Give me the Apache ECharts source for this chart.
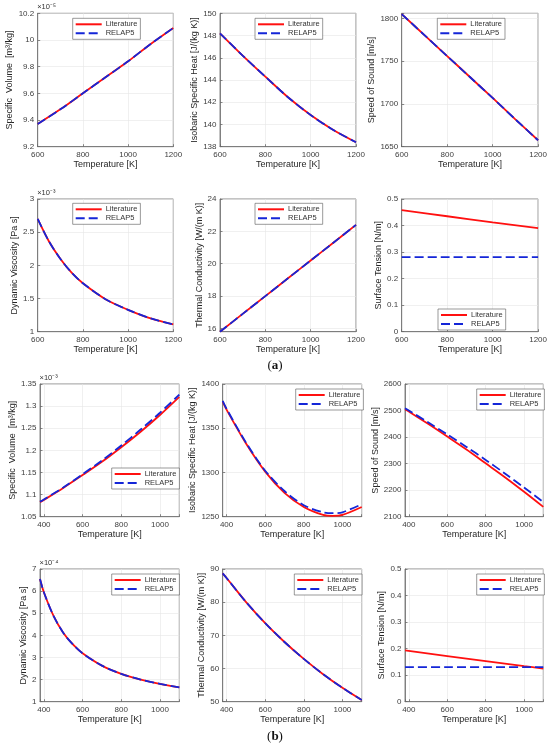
<!DOCTYPE html>
<html>
<head>
<meta charset="utf-8">
<script src="https://cdn.jsdelivr.net/npm/echarts@6/dist/echarts.min.js"></script>
<style>
html,body{margin:0;padding:0;background:#fff;}
#chart{width:550px;height:746px;}
</style>
</head>
<body>
<div id="chart"></div>
<script>
// ---------------- DATA ----------------
// (a) lead, T = 600..1200 K
const T_A = [600, 700, 800, 900, 1000, 1100, 1200];
const T_A_VISC = [600, 650, 700, 750, 800, 900, 1000, 1100, 1200];
const T_A_ST = [600, 800, 1000, 1200];

const A_SV_LIT = [9.37, 9.48, 9.60, 9.72, 9.84, 9.97, 10.09];      // x1e-5 m3/kg
const A_SV_REL = [9.37, 9.48, 9.60, 9.72, 9.84, 9.97, 10.09];
const A_CP_LIT = [148.2, 146.2, 144.3, 142.45, 140.85, 139.5, 138.4];
const A_CP_REL = [148.2, 146.2, 144.3, 142.45, 140.85, 139.5, 138.4];
const A_SS_LIT = [1805, 1780.5, 1756, 1731.5, 1707, 1682, 1657.5];
const A_SS_REL = [1805, 1780.5, 1756, 1731.5, 1707, 1682, 1657.5];
const A_MU_LIT = [2.70, 2.36, 2.10, 1.89, 1.73, 1.49, 1.33, 1.20, 1.11]; // x1e-3 Pa s
const A_MU_REL = [2.70, 2.36, 2.10, 1.89, 1.73, 1.49, 1.33, 1.20, 1.11];
const A_K_LIT = [15.8, 16.9, 18.0, 19.1, 20.2, 21.3, 22.4];
const A_K_REL = [15.8, 16.9, 18.0, 19.1, 20.2, 21.3, 22.4];
const A_ST_LIT = [0.458, 0.435, 0.412, 0.390];
const A_ST_REL = [0.281, 0.281, 0.281, 0.281];

// (b) sodium, T = 380..1100 K
const T_B = [380, 400, 500, 600, 700, 800, 900, 1000, 1100];
const T_B_CP = [380, 400, 500, 600, 700, 800, 900, 950, 1000, 1100];
const T_B_VISC = [380, 400, 450, 500, 550, 600, 700, 800, 900, 1000, 1100];
const T_B_ST = [380, 600, 800, 1000, 1100];

const B_SV_LIT = [1.083, 1.088, 1.115, 1.144, 1.174, 1.207, 1.242, 1.280, 1.321]; // x1e-3 m3/kg
const B_SV_REL = [1.084, 1.089, 1.116, 1.146, 1.177, 1.211, 1.247, 1.285, 1.326];
const B_CP_LIT = [1380, 1371, 1333, 1301, 1277, 1261, 1252, 1251, 1252, 1261];
const B_CP_REL = [1381, 1372, 1334, 1302, 1279, 1263, 1255, 1254, 1255, 1264];
const B_SS_LIT = [2505, 2496, 2450, 2402, 2353, 2301, 2249, 2194, 2137];
const B_SS_REL = [2509, 2500, 2456, 2410, 2363, 2314, 2263, 2210, 2155];
const B_MU_LIT = [6.55, 5.95, 4.88, 4.12, 3.59, 3.19, 2.63, 2.26, 2.00, 1.81, 1.65]; // x1e-4 Pa s
const B_MU_REL = [6.55, 5.95, 4.88, 4.12, 3.59, 3.19, 2.63, 2.26, 2.00, 1.81, 1.65];
const B_K_LIT = [88.7, 87.3, 80.1, 73.7, 68.0, 62.9, 58.3, 54.2, 50.5];
const B_K_REL = [88.7, 87.3, 80.1, 73.7, 68.0, 62.9, 58.3, 54.2, 50.5];
const B_ST_LIT = [0.193, 0.172, 0.153, 0.134, 0.125];
const B_ST_REL = [0.13, 0.13, 0.13, 0.13, 0.13];

const SERIES_NAMES = ['Literature', 'RELAP5'];
const X_TITLE = 'Temperature [K]';

// ---------------- LAYOUT ----------------
const FONT = "'Liberation Sans', Arial, Helvetica, sans-serif";
const RED = '#ff1010';
const BLUE = '#1426d8';

const panels = [
  // row a1
  {g:[37.7,13.3,135.6,133.4], x:[600,1200,200,true], y:[9.2,10.2,0.2,true], T:T_A, lit:A_SV_LIT, rel:A_SV_REL,
   yt:'Specific  Volume  [m\u00b3/kg]', exp:'\u00d710\u207b\u2075', yd:28.2, lg:[72.7,18.3]},
  {g:[220,13.3,136,133.4], x:[600,1200,200,true], y:[138,150,2,true], T:T_A, lit:A_CP_LIT, rel:A_CP_REL,
   yt:'Isobaric Specific Heat [J/(kg K)]', yd:23.3, lg:[255,18.3]},
  {g:[401.7,13.3,136.6,133.4], x:[600,1200,200,true], y:[1650,1806,50,true], T:T_A, lit:A_SS_LIT, rel:A_SS_REL,
   yt:'Speed of Sound [m/s]', yd:29, lg:[437.3,18.3]},
  // row a2
  {g:[37.7,199,135.6,132.7], x:[600,1200,200,true], y:[1,3,0.5,true], T:T_A_VISC, lit:A_MU_LIT, rel:A_MU_REL,
   yt:'Dynamic Viscosity [Pa s]', exp:'\u00d710\u207b\u00b3', yd:22.7, lg:[72.7,203.3]},
  {g:[220,199,136,132.7], x:[600,1200,200,true], y:[15.8,24,2,false], T:T_A, lit:A_K_LIT, rel:A_K_REL,
   yt:'Thermal Conductivity [W/(m K)]', yd:20.7, lg:[255,203.3]},
  {g:[401.7,199,136.6,132.7], x:[600,1200,200,true], y:[0,0.5,0.1,true], T:T_A_ST, lit:A_ST_LIT, rel:A_ST_REL,
   yt:'Surface Tension [N/m]', yd:22.7, lg:[438,309]},
  // row b1
  {g:[40,384,139.3,132.7], x:[380,1100,200,false], y:[1.05,1.35,0.05,true], T:T_B, lit:B_SV_LIT, rel:B_SV_REL,
   yt:'Specific  Volume  [m\u00b3/kg]', exp:'\u00d710\u207b\u00b3', yd:26.7, lg:[111.7,468]},
  {g:[222.7,384,139,132.7], x:[380,1100,200,false], y:[1250,1400,50,true], T:T_B_CP, lit:B_CP_LIT, rel:B_CP_REL,
   yt:'Isobaric Specific Heat [J/(kg K)]', yd:27.7, lg:[295.7,389]},
  {g:[405,384,138.3,132.7], x:[380,1100,200,false], y:[2100,2600,100,true], T:T_B, lit:B_SS_LIT, rel:B_SS_REL,
   yt:'Speed of Sound [m/s]', yd:29, lg:[476.7,389]},
  // row b2
  {g:[40,569,139.3,132.7], x:[380,1100,200,false], y:[1,7,1,true], T:T_B_VISC, lit:B_MU_LIT, rel:B_MU_REL,
   yt:'Dynamic Viscosity [Pa s]', exp:'\u00d710\u207b\u2074', yd:15.5, lg:[111.7,574]},
  {g:[222.7,569,139,132.7], x:[380,1100,200,false], y:[50,90,10,true], T:T_B, lit:B_K_LIT, rel:B_K_REL,
   yt:'Thermal Conductivity [W/(m K)]', yd:20.4, lg:[294.3,574]},
  {g:[405,569,138.3,132.7], x:[380,1100,200,false], y:[0,0.5,0.1,true], T:T_B_ST, lit:B_ST_LIT, rel:B_ST_REL,
   yt:'Surface Tension [N/m]', yd:21.7, lg:[476.7,574]}
];

function tickFmt(step) {
  return function (v) {
    const r = v / step;
    if (Math.abs(r - Math.round(r)) > 1e-6) return '';
    return String(+(+v).toFixed(6));
  };
}

const grids = [], xAxes = [], yAxes = [], series = [], legends = [], graphics = [];

panels.forEach(function (p, i) {
  grids.push({left:p.g[0], top:p.g[1], width:p.g[2], height:p.g[3], show:true,
    borderColor:'#6a6a6a', borderWidth:0.8, backgroundColor:'#fff', containLabel:false});

  const xa = {type:'value', gridIndex:i, min:p.x[0], max:p.x[1],
    name:X_TITLE, nameLocation:'middle', nameGap:13.5,
    nameTextStyle:{fontFamily:FONT, fontSize:9, color:'#262626'},
    axisLine:{show:true, onZero:false, lineStyle:{color:'#6a6a6a', width:0.8}},
    axisTick:{show:true, inside:true, length:2.5, lineStyle:{color:'#6a6a6a', width:0.8}},
    axisLabel:{fontFamily:FONT, fontSize:8, color:'#404040', margin:4, formatter:tickFmt(p.x[2]),
      showMinLabel:true, showMaxLabel:true},
    splitLine:{show:true, lineStyle:{color:'#e6e6e6', width:0.6}}};
  if (p.x[3]) xa.interval = p.x[2]; else xa.splitNumber = 4;
  xAxes.push(xa);

  const ya = {type:'value', gridIndex:i, min:p.y[0], max:p.y[1],
    name:p.yt, nameLocation:'middle', nameGap:p.yd - 4.5,
    nameTextStyle:{fontFamily:FONT, fontSize:9, color:'#262626'},
    axisLine:{show:true, onZero:false, lineStyle:{color:'#6a6a6a', width:0.8}},
    axisTick:{show:true, inside:true, length:2.5, lineStyle:{color:'#6a6a6a', width:0.8}},
    axisLabel:{fontFamily:FONT, fontSize:8, color:'#404040', margin:3.5, formatter:tickFmt(p.y[2]),
      showMinLabel:true, showMaxLabel:true},
    splitLine:{show:true, lineStyle:{color:'#e6e6e6', width:0.6}}};
  if (p.y[3]) ya.interval = p.y[2]; else ya.splitNumber = 4;
  yAxes.push(ya);

  series.push({name:SERIES_NAMES[0], type:'line', xAxisIndex:i, yAxisIndex:i, showSymbol:false, symbol:'none',
    smooth:0.3, data:p.T.map(function (t, k) { return [t, p.lit[k]]; }),
    lineStyle:{color:RED, width:1.8, type:'solid'}, itemStyle:{color:RED}, z:3});
  series.push({name:SERIES_NAMES[1], type:'line', xAxisIndex:i, yAxisIndex:i, showSymbol:false, symbol:'none',
    smooth:0.3, data:p.T.map(function (t, k) { return [t, p.rel[k]]; }),
    lineStyle:{color:BLUE, width:1.8, type:[9,4]}, itemStyle:{color:BLUE}, z:4});

  legends.push({left:p.lg[0], top:p.lg[1], orient:'vertical', data:SERIES_NAMES,
    backgroundColor:'#fff', borderColor:'#555', borderWidth:0.6, padding:[2,3,2,2],
    itemWidth:26, itemHeight:8, itemGap:1, selectedMode:false,
    itemStyle:{opacity:0, borderWidth:0},
    textStyle:{fontFamily:FONT, fontSize:7.5, color:'#333', padding:[0,0,0,-1]}});

  if (p.exp) {
    graphics.push({type:'text', left:p.g[0] - 0.5, top:p.g[1] - 10.5,
      style:{text:p.exp, font:'7.5px ' + FONT, fill:'#333'}});
  }
});

graphics.push({type:'text', x:275, y:366,
  style:{text:'{n|(}{b|a}{n|)}', align:'center', verticalAlign:'middle',
    rich:{n:{fontFamily:"'Liberation Serif', 'DejaVu Serif', serif", fontSize:13, fill:'#111'},
          b:{fontFamily:"'Liberation Serif', 'DejaVu Serif', serif", fontSize:13, fontWeight:'bold', fill:'#111'}}}});
graphics.push({type:'text', x:275, y:737,
  style:{text:'{n|(}{b|b}{n|)}', align:'center', verticalAlign:'middle',
    rich:{n:{fontFamily:"'Liberation Serif', 'DejaVu Serif', serif", fontSize:13, fill:'#111'},
          b:{fontFamily:"'Liberation Serif', 'DejaVu Serif', serif", fontSize:13, fontWeight:'bold', fill:'#111'}}}});

const chart = echarts.init(document.getElementById('chart'), null, {renderer:'canvas'});
chart.setOption({
  backgroundColor:'#fff',
  animation:false,
  textStyle:{fontFamily:FONT},
  grid:grids, xAxis:xAxes, yAxis:yAxes, series:series, legend:legends, graphic:graphics
});
</script>
</body>
</html>
